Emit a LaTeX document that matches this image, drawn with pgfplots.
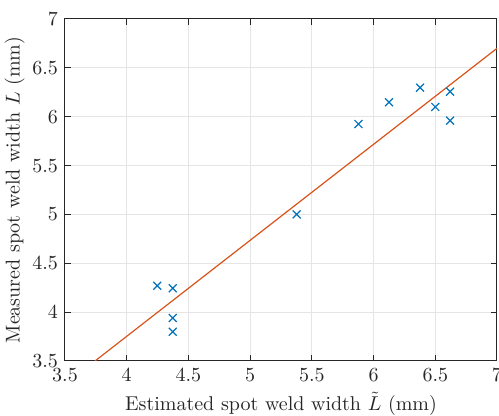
\documentclass[border=0pt]{standalone}
\usepackage{pgfplots}
\pgfplotsset{compat=1.18}
\usetikzlibrary{calc}
\definecolor{mblue}{rgb}{0,0.447,0.741}
\definecolor{morange}{rgb}{0.85,0.325,0.098}
\definecolor{axgray}{rgb}{0.15,0.15,0.15}
\begin{document}
\begin{tikzpicture}
\begin{axis}[
  name=ax,
  scale only axis,
  width=216pt, height=171pt,
  xmin=3.5, xmax=7, ymin=3.5, ymax=7,
  xtick={3.5,4,...,7}, ytick={3.5,4,...,7},
  xticklabels={3.5,4,4.5,5,5.5,6,6.5,7},
  yticklabels={3.5,4,4.5,5,5.5,6,6.5,7},
  grid=major,
  major grid style={gray!20, line width=0.5pt},
  axis line style={axgray, line width=0.5pt},
  tick style={axgray, line width=0.5pt},
  major tick length=3pt,
  tick align=inside,
  ticklabel style={font=\normalsize, text=axgray},
  xlabel={Estimated spot weld width $\tilde{L}$ (mm)},
  ylabel={Measured spot weld width $L$ (mm)},
  label style={text=axgray},
  xlabel style={yshift=2pt},
  ylabel style={yshift=-3pt},
]
\addplot[morange, line width=0.6pt] coordinates {(3.743,3.5) (7,6.70)};
\addplot[only marks, mark=x, mark size=2.8pt, mblue, mark options={line width=0.6pt}] coordinates {
(4.248,4.27) (4.373,4.245) (4.373,3.94) (4.373,3.80)
(5.377,5.00) (5.877,5.925) (6.125,6.148) (6.377,6.297)
(6.50,6.10) (6.62,6.256) (6.62,5.96)
};
\end{axis}
\pgfresetboundingbox
\path ($(ax.south west)+(-32.5pt,-27.5pt)$) rectangle ($(ax.north east)+(1pt,9.5pt)$);
\end{tikzpicture}
\end{document}
